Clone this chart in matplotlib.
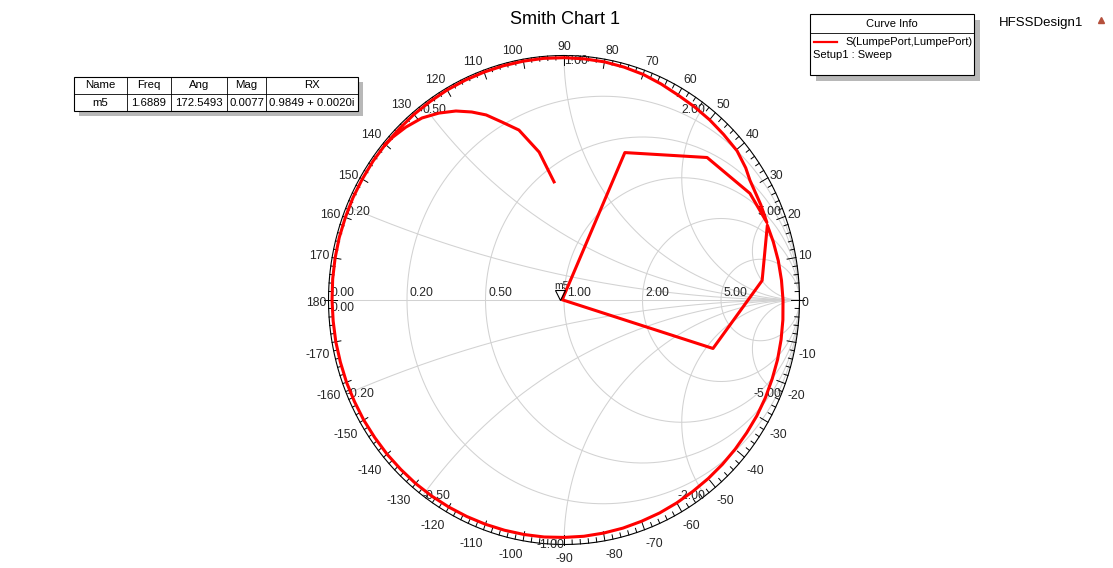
import numpy as np
import matplotlib
matplotlib.use("Agg")
import matplotlib.pyplot as plt
from matplotlib.patches import Rectangle
from matplotlib.transforms import offset_copy

plt.rcParams["font.family"] = ["Liberation Sans", "DejaVu Sans"]

W, H = 1113, 568

# ---- data ---------------------------------------------------------------
# marker m5
m5_name = "m5"
m5_freq = "1.6889"
m5_ang = 172.5493
m5_mag = 0.0077
m5_rx = "0.9849 + 0.0020i"

# S(LumpePort,LumpePort) trace, |S| and angle (deg), in sweep order, in four stretches
spiral_mag = [0.485, 0.614, 0.721, 0.774, 0.826, 0.863, 0.899, 0.931, 0.958, 0.975, 0.986]
spiral_ang = [95.0, 99.9, 105.4, 109.9, 113.6, 117.0, 120.7, 124.8, 129.0, 133.5, 137.5]

loop1_mag = [0.990, 0.990, 0.989, 0.989, 0.988, 0.988, 0.987, 0.986, 0.985, 0.984, 0.984,
             0.983, 0.983, 0.982, 0.982, 0.981, 0.981, 0.980, 0.980, 0.979, 0.978, 0.977,
             0.976, 0.975, 0.974, 0.973, 0.971, 0.970, 0.968, 0.966, 0.963, 0.961, 0.958,
             0.955, 0.953, 0.951, 0.949, 0.947, 0.946, 0.944, 0.941, 0.939, 0.936, 0.933,
             0.930, 0.927, 0.924, 0.920, 0.916]
loop1_ang = [140, 145, 150, 155, 160, 165, 170, 175, 180, -175, -170,
             -165, -160, -155, -150, -145, -140, -135, -130, -125, -120, -115,
             -110, -105, -100, -95, -90, -85, -80, -75, -70, -65, -60,
             -55, -50, -45, -40, -35, -30, -25, -20, -15, -10, -5,
             0, 5, 10, 15, 19.5]

jump_mag = [0.845, 0.663, m5_mag, 0.656, 0.842, 0.902, 0.918]
jump_ang = [5.4, -17.4, m5_ang, 66.8, 43.8, 28.9, 20.2]

loop2_mag = [0.922, 0.929, 0.942, 0.955, 0.958, 0.962, 0.965, 0.968, 0.975, 0.982, 0.986,
             0.989, 0.990, 0.991, 0.992, 0.992, 0.992, 0.992, 0.992, 0.992, 0.991, 0.991,
             0.990, 0.990]
loop2_ang = [25, 31.8, 35, 39.7, 45, 50, 55, 60, 65, 70, 75,
             80, 85, 90, 95, 100, 105, 110, 115, 120, 125, 130,
             135, 140]

r_circles = [0.2, 0.5, 1.0, 2.0, 5.0]
x_arcs = [0.2, 0.5, 1.0, 2.0, 5.0]
angle_labels = list(range(-170, 181, 10))

table_cols = ["Name", "Freq", "Ang", "Mag", "RX"]
table_row = [m5_name, m5_freq, f"{m5_ang:.4f}", f"{m5_mag:.4f}", m5_rx]

# ---- figure -------------------------------------------------------------
fig = plt.figure(figsize=(W / 100, H / 100), dpi=100)

cx, cy = 564, 300.0
Rh, Rv = 235.5, 244.5
L = 1.1
ax = fig.add_axes([(cx - L * Rh) / W, (H - cy - L * Rv) / H, 2 * L * Rh / W, 2 * L * Rv / H])
ax.set_xlim(-L, L)
ax.set_ylim(-L, L)
ax.axis("off")

grid_c = "#d2d2d2"
lab_c = "#262626"
fs = 8.8
t = np.linspace(0, 2 * np.pi, 600)

# resistance circles
for r in r_circles:
    c, rad = r / (1 + r), 1 / (1 + r)
    ax.plot(c + rad * np.cos(t), rad * np.sin(t), color=grid_c, lw=0.75, zorder=1)
# reactance arcs
rr = np.concatenate([[0], np.logspace(-3, 4, 600)])
for x in x_arcs:
    for s in (1, -1):
        z = rr + 1j * s * x
        g = (z - 1) / (z + 1)
        ax.plot(g.real, g.imag, color=grid_c, lw=0.75, zorder=1)
ax.plot([-1, 1], [0, 0], color=grid_c, lw=0.75, zorder=1)

# outer ring with angle ticks
ax.plot(np.cos(t), np.sin(t), color="black", lw=0.8, zorder=2)
for a in range(-180, 180, 2):
    th = np.deg2rad(a)
    ln = 0.038 if a % 10 == 0 else 0.018
    r0 = 1.02 if a in (0, -180) else 1.0
    ax.plot([r0 * np.cos(th), (1 - ln) * np.cos(th)], [r0 * np.sin(th), (1 - ln) * np.sin(th)],
            color="black", lw=0.7, zorder=2)
for a in angle_labels:
    th = np.deg2rad(a)
    c, s = np.cos(th), np.sin(th)
    if a in (90, -90):
        ha = "center"
    elif -90 < a < 90:
        ha = "left"
    else:
        ha = "right"
    if a < 0:
        va, dy = "top", -6
    elif a in (0, 180):
        va, dy = "center", -3
    elif s > 0.6:
        va, dy = "bottom", 0
    else:
        va, dy = "center", 1
    ax.annotate(str(a), xy=(1.01 * c, 1.01 * s), xytext=(0, dy), textcoords="offset pixels",
                ha=ha, va=va, fontsize=fs, color=lab_c, annotation_clip=False)

# resistance labels on the real axis
ax.text(-0.99, 0.003, "0.00", ha="left", va="bottom", fontsize=fs, color=lab_c)
ax.text(-0.99, -0.008, "0.00", ha="left", va="top", fontsize=fs, color=lab_c)
for r in r_circles:
    ax.text((r - 1) / (r + 1) + 0.012, 0.003, f"{r:.2f}", ha="left", va="bottom",
            fontsize=fs, color=lab_c)
# reactance labels on the unit circle
for x in x_arcs:
    for s in (1, -1):
        g = (1j * s * x - 1) / (1j * s * x + 1)
        left = g.real < -1e-9 or (abs(g.real) < 1e-9 and s > 0)
        ax.text(g.real, g.imag, f"{s * x:.2f}", ha="left" if left else "right",
                va="top" if s > 0 else "center", fontsize=fs, color=lab_c)

# trace
mag = np.array(spiral_mag + loop1_mag + jump_mag + loop2_mag)
ang = np.array(spiral_ang + loop1_ang + jump_ang + loop2_ang)
g = mag * np.exp(1j * np.deg2rad(ang))
ax.plot(g.real, g.imag, color="#ff0000", lw=2.2, zorder=4, solid_joinstyle="round")

# marker m5
g5 = m5_mag * np.exp(1j * np.deg2rad(m5_ang))
ax.plot([g5.real], [g5.imag], marker="v", ms=7, mfc="none", mec="black", mew=0.8, zorder=5,
        transform=offset_copy(ax.transData, fig=fig, x=-2, y=4.5, units="dots"))
ax.text(g5.real, g5.imag, m5_name, ha="center", va="bottom", fontsize=7.5, color="#222222",
        transform=offset_copy(ax.transData, fig=fig, x=-1, y=9, units="dots"))

# ---- annotations in pixel space ----------------------------------------
ov = fig.add_axes([0, 0, 1, 1], zorder=3)
ov.set_xlim(0, W)
ov.set_ylim(H, 0)
ov.axis("off")

fig.text(565 / W, 1 - 20 / H, "Smith Chart 1", ha="center", va="center", fontsize=13)

# marker table
edges = [74, 127, 171, 227, 266, 358]
ty = [77, 94, 111]
ov.add_patch(Rectangle((edges[0] + 5, ty[0] + 5), edges[-1] - edges[0], ty[-1] - ty[0],
                       facecolor="#b8b8b8", edgecolor="none"))
ov.add_patch(Rectangle((edges[0], ty[0]), edges[-1] - edges[0], ty[-1] - ty[0],
                       facecolor="white", edgecolor="black", lw=0.8))
ov.plot([edges[0], edges[-1]], [ty[1], ty[1]], color="black", lw=0.6)
for e in edges[1:-1]:
    ov.plot([e, e], [ty[0], ty[-1]], color="black", lw=0.6)
for i in range(len(table_cols)):
    xm = (edges[i] + edges[i + 1]) / 2
    ov.text(xm, (ty[0] + ty[1]) / 2, table_cols[i], ha="center", va="center", fontsize=8.2)
    ov.text(xm, (ty[1] + ty[2]) / 2, table_row[i], ha="center", va="center", fontsize=8.2)

# curve info box
ov.add_patch(Rectangle((816, 20), 164, 61, facecolor="#b8b8b8", edgecolor="none"))
ov.add_patch(Rectangle((810, 14), 164, 61, facecolor="white", edgecolor="black", lw=0.8))
ov.plot([810, 974], [33, 33], color="black", lw=0.6)
ov.text(892, 24, "Curve Info", ha="center", va="center", fontsize=8)
ov.plot([814, 837], [42, 42], color="#ff0000", lw=1.6)
ov.text(845, 42, "S(LumpePort,LumpePort)", ha="left", va="center", fontsize=8)
ov.text(813, 55, "Setup1 : Sweep", ha="left", va="center", fontsize=8)

ov.text(999, 23, "HFSSDesign1", ha="left", va="center", fontsize=9.5)
ov.plot([1101], [20], marker="^", ms=5, color="#b5503c")

fig.savefig("out.png", dpi=100)
